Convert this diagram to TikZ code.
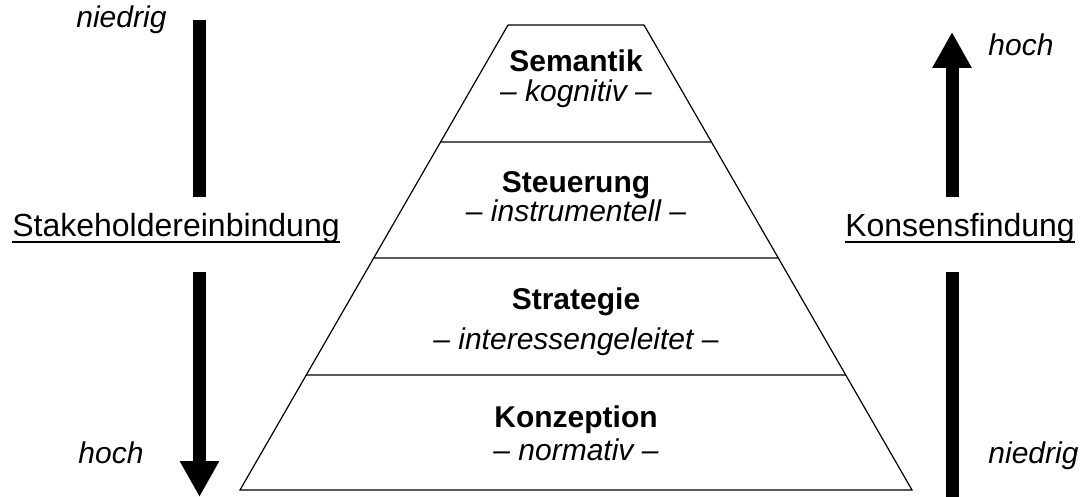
\documentclass[tikz,border=0pt]{standalone}
\usepackage{fontspec}
\setmainfont{Liberation Sans}
\usetikzlibrary{arrows.meta,calc}
\tikzset{
  layertitle/.style={anchor=base,inner sep=0pt,font=\fontsize{15}{18}\selectfont\bfseries},
  layersub/.style={anchor=base,inner sep=0pt,font=\fontsize{15}{18}\selectfont\itshape},
  sidelabel/.style={anchor=base,inner sep=0pt,font=\fontsize{16}{19}\selectfont},
  levellabel/.style={anchor=base west,inner sep=0pt,font=\fontsize{15}{18}\selectfont\itshape},
  bigarrow/.style={line width=6.5pt},
  bighead/.style={bigarrow,-{Triangle[width=18.5pt,length=18pt]}},
  layerline/.style={draw=black!65,line width=1.1pt}
}
\begin{document}
\begin{tikzpicture}[x=0.5pt,y=-0.5pt]
\useasboundingbox (0,0) rectangle (1082,497);
\coordinate (tl) at (508,25);
\coordinate (tr) at (644,25);
\coordinate (bl) at (240,490);
\coordinate (br) at (912,490);
\foreach \t in {0.2516,0.501,0.7527}
  \draw[layerline] ($(tl)!\t!(bl)$) -- ($(tr)!\t!(br)$);
\draw[line width=0.6pt] (tl) -- (tr) -- (br) -- (bl) -- cycle;
\node[layertitle] (sem) at (576,72) {Semantik};
\node[layersub] (semsub) at (576,102) {– kognitiv –};
\node[layertitle] (steu) at (576,193) {Steuerung};
\node[layersub] (steusub) at (576,222) {– instrumentell –};
\node[layertitle] (strat) at (576,310) {Strategie};
\node[layersub] (stratsub) at (576,350) {– interessengeleitet –};
\node[layertitle] (konz) at (576,427) {Konzeption};
\node[layersub] (konzsub) at (576,460) {– normativ –};
\coordinate (la) at (199.5,20);
\coordinate (lb) at (199.5,197);
\coordinate (lc) at (199.5,272);
\coordinate (ld) at (199.5,497);
\draw[bigarrow] (la) -- (lb);
\draw[bighead] (lc) -- (ld);
\coordinate (ra) at (952,497);
\coordinate (rb) at (952,272);
\coordinate (rc) at (952,197);
\coordinate (rd) at (952,32);
\draw[bigarrow] (ra) -- (rb);
\draw[bighead] (rc) -- (rd);
\node[sidelabel] (stake) at (176,237) {Stakeholdereinbindung};
\draw[line width=1.2pt] ([yshift=-2.6pt]stake.base west) -- ([yshift=-2.6pt]stake.base east);
\node[sidelabel] (kons) at (960,237) {Konsensfindung};
\draw[line width=1.2pt] ([yshift=-2.6pt]kons.base west) -- ([yshift=-2.6pt]kons.base east);
\node[levellabel] (lniedrig) at (76,28) {niedrig};
\node[levellabel] (lhoch) at (78,463) {hoch};
\node[levellabel] (rhoch) at (988,56) {hoch};
\node[levellabel] (rniedrig) at (988,463) {niedrig};
\end{tikzpicture}
\end{document}
